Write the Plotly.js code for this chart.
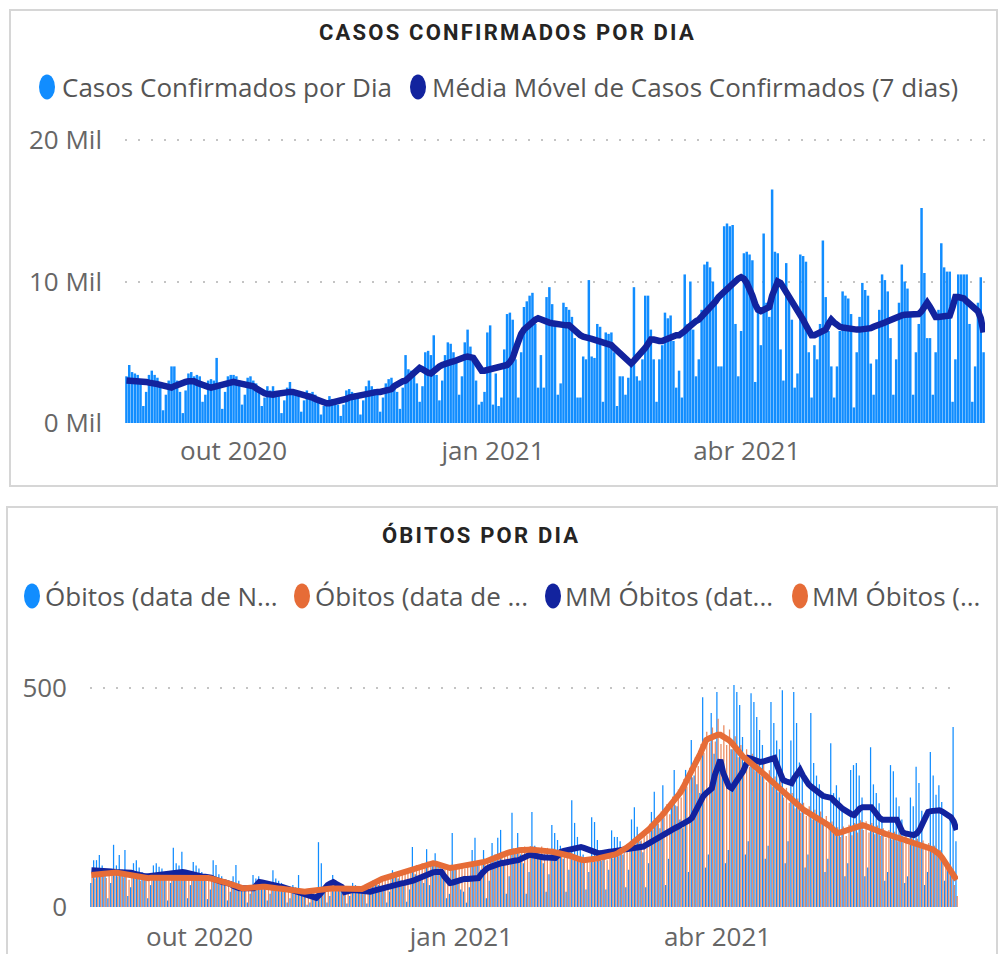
<!DOCTYPE html>
<html><head><meta charset="utf-8">
<script src="https://cdn.plot.ly/plotly-3.0.1.min.js"></script>
<style>html,body{margin:0;padding:0;background:#fff;}#chart{width:998px;height:954px;}</style>
</head><body><div id="chart"></div>
<script>
// ---------- DATA ----------
const START_DATE = '2020-08-24';

// Casos confirmados por dia (Mil)
const casosPorDia = [
3.3,4.1,3.6,3.5,3.4,2.9,1.2,
2.2,3.4,3.7,3.4,3.2,2.8,0.9,
2.0,3.0,4.0,4.0,3.0,2.2,0.7,
2.3,3.5,3.6,3.3,3.4,3.3,1.5,
2.0,3.0,3.1,3.0,4.6,2.6,1.0,
2.2,3.3,3.4,3.4,3.3,3.0,1.3,
2.0,3.2,3.3,3.0,2.8,2.4,1.2,
1.8,2.6,2.3,2.6,2.2,1.9,0.7,
1.6,2.5,2.9,2.4,2.3,2.0,0.8,
1.6,2.3,2.1,2.2,2.0,1.5,0.6,
1.2,1.6,1.9,1.7,1.6,1.3,0.5,
1.3,2.3,2.4,2.2,2.1,1.8,0.6,
1.6,2.6,3.0,2.6,2.4,2.0,0.8,
1.8,2.8,3.1,3.2,2.7,2.2,1.0,
2.5,4.8,3.8,3.7,3.5,2.8,1.5,
2.6,5.0,5.1,4.8,6.2,3.4,1.6,
3.0,4.8,5.7,5.6,5.0,4.3,2.0,
3.3,5.7,6.6,5.4,4.5,3.0,1.3,
1.5,2.2,6.4,6.9,1.3,3.5,1.2,
1.8,5.2,7.7,7.8,7.3,4.5,1.8,
5.0,8.2,8.6,9.0,9.2,7.0,2.5,
4.8,2.5,8.9,9.6,8.4,7.2,2.0,
2.8,8.5,8.2,8.0,7.5,6.0,1.8,
1.8,4.7,4.5,10.1,4.7,4.6,7.0,
6.8,1.5,6.4,6.3,6.4,5.0,1.2,
3.3,3.3,2.0,3.2,4.0,9.6,3.3,
3.0,4.5,9.0,9.0,6.6,4.5,1.5,
4.5,5.5,7.8,7.4,7.6,5.8,2.5,
3.7,1.8,10.5,7.0,10.0,6.6,3.3,
4.5,8.0,11.2,11.4,11.0,10.0,8.9,
4.0,4.0,13.9,14.1,13.9,14.0,7.0,
3.3,6.5,12.0,12.1,11.9,11.5,2.9,
8.0,5.5,13.4,8.5,7.5,16.5,12.1,
12.0,5.2,3.0,11.3,9.0,7.3,2.5,
3.5,11.9,11.8,11.4,5.0,1.8,5.5,
4.5,7.0,12.9,8.9,6.5,4.0,1.8,
4.0,6.5,9.3,9.0,8.8,7.7,1.1,
5.0,7.5,9.9,9.4,9.0,4.2,2.0,
4.5,8.0,10.5,10.1,9.3,6.0,2.0,
4.5,8.5,11.2,10.0,9.5,7.5,2.0,
5.0,7.0,15.2,10.6,6.0,6.0,2.0,
5.0,8.0,12.7,11.0,10.7,10.7,1.5,
4.5,10.5,10.5,10.5,10.5,7.0,1.5,
4.0,8.5,10.3,5.0
];

// Média móvel de casos confirmados (7 dias) (Mil)
const casosMM7 = [
3.0,3.0,3.0,2.95,2.95,3.0,2.95,2.9,2.85,2.85,
2.8,2.75,2.7,2.65,2.6,2.55,2.5,2.6,2.7,2.75,
2.85,2.9,2.95,3.0,2.95,2.85,2.75,2.65,2.6,2.55,
2.5,2.55,2.65,2.75,2.8,2.85,2.85,2.9,2.9,2.85,
2.8,2.75,2.75,2.7,2.7,2.6,2.45,2.3,2.2,2.1,
2.05,2.0,2.0,2.05,2.1,2.15,2.2,2.2,2.2,2.2,
2.15,2.1,2.05,2.0,2.0,1.9,1.8,1.7,1.6,1.5,
1.4,1.4,1.4,1.45,1.45,1.5,1.5,1.6,1.7,1.8,
1.85,1.9,1.95,2.0,2.0,2.05,2.1,2.1,2.15,2.2,
2.2,2.25,2.3,2.3,2.4,2.6,2.75,2.85,2.95,3.0,
3.2,3.4,3.6,3.8,3.9,3.8,3.65,3.55,3.5,3.7,
3.85,4.0,4.1,4.2,4.25,4.3,4.35,4.45,4.55,4.6,
4.65,4.7,4.7,4.6,4.3,4.0,3.7,3.7,3.75,3.8,
3.8,3.85,3.95,4.0,4.05,4.1,4.3,4.6,5.2,5.9,
6.3,6.6,6.8,7.0,7.2,7.3,7.4,7.3,7.2,7.1,
7.1,7.05,7.0,7.0,7.0,6.95,6.9,6.9,6.7,6.5,
6.3,6.2,6.1,6.0,6.0,5.95,5.9,5.8,5.75,5.7,
5.7,5.6,5.5,5.3,5.1,5.0,4.8,4.6,4.4,4.2,
4.4,4.6,4.8,5.0,5.3,5.6,5.9,5.9,5.8,5.8,
5.8,5.9,6.0,6.1,6.1,6.2,6.2,6.3,6.5,6.7,
6.9,7.1,7.2,7.3,7.5,7.7,7.9,8.1,8.4,8.6,
8.9,9.1,9.3,9.5,9.7,9.9,10.1,10.2,10.3,10.2,
9.9,9.5,9.0,8.4,8.0,7.9,8.0,8.1,8.2,9.0,
9.7,10.0,9.9,9.6,9.3,9.0,8.7,8.3,7.9,7.6,
7.3,6.9,6.5,6.2,6.2,6.3,6.3,6.4,6.6,7.0,
7.3,7.1,6.9,6.8,6.75,6.7,6.65,6.6,6.6,6.6,
6.6,6.6,6.65,6.7,6.7,6.8,6.85,6.9,7.0,7.1,
7.2,7.3,7.4,7.5,7.6,7.6,7.65,7.65,7.7,7.7,
7.7,7.7,7.9,8.2,8.5,8.2,7.7,7.5,7.5,7.5,
7.5,7.5,7.6,8.2,8.9,8.9,8.85,8.8,8.6,8.4,
8.2,8.0,7.9,7.4,6.4
];

// Óbitos (data de notificação)
const obitosNotificacao = [
55,107,107,119,95,85,20,
55,142,95,119,85,130,25,
45,100,107,90,80,65,20,
50,95,100,92,88,70,15,
55,135,100,95,126,75,20,
50,103,95,88,80,65,18,
40,107,96,75,70,55,15,
35,70,96,60,50,40,10,
30,73,65,70,60,55,15,
30,84,65,60,55,40,10,
20,50,45,73,35,25,5,
10,25,30,148,100,45,10,
25,73,60,50,45,35,8,
25,55,50,45,40,35,8,
30,60,55,50,45,40,10,
35,84,70,65,60,50,12,
40,137,75,70,65,55,132,
50,100,123,95,90,75,20,
30,169,90,60,40,35,10,
45,130,158,95,85,130,20,
60,146,120,158,176,100,30,
70,215,130,169,120,100,30,
80,217,140,130,120,100,35,
75,187,169,153,140,110,35,
85,244,192,160,140,120,40,
80,205,194,153,130,110,40,
85,175,160,160,150,120,45,
85,200,228,183,150,125,45,
100,217,263,200,180,278,50,
110,240,313,230,200,180,313,
80,381,300,280,260,479,90,
120,443,350,491,320,300,100,
130,360,507,491,461,388,120,
150,488,468,434,404,370,110,
140,468,420,380,360,495,100,
150,380,491,420,330,300,90,
120,443,329,300,280,250,80,
110,374,260,278,250,220,70,
100,313,324,329,300,250,70,
90,365,280,260,237,200,60,
80,324,310,250,230,200,55,
70,250,230,320,283,220,50,
80,354,300,256,278,240,60,
90,200,411,150
];

// Óbitos (data de óbito)
const obitosDataObito = [
78,65,82,70,85,66,80,72,88,70,
80,68,84,62,76,65,72,60,70,63,
71,62,75,64,73,66,76,61,72,65,
70,60,74,62,71,64,70,61,72,63,
70,62,68,58,66,54,60,50,57,48,
52,44,47,40,46,41,48,42,49,43,
50,42,49,41,47,40,45,38,43,36,
40,34,38,33,37,32,39,34,41,36,
43,38,45,40,46,41,44,39,43,38,
42,37,41,36,42,38,48,44,56,52,
64,58,69,61,72,66,77,70,81,74,
86,78,90,84,96,88,100,92,104,95,
106,94,102,90,97,85,94,86,97,88,
98,88,100,91,104,95,107,96,110,100,
115,106,120,110,126,115,130,119,134,122,
137,124,138,125,139,124,137,123,138,122,
135,120,133,118,131,116,128,113,125,108,
119,104,115,101,114,102,116,103,118,105,
120,107,124,111,128,116,134,124,143,133,
154,142,165,152,176,164,190,176,203,190,
218,205,235,212,252,232,268,250,292,275,
318,296,342,322,372,352,400,375,410,378,
430,372,415,370,405,360,390,342,370,330,
360,320,350,310,340,300,330,285,312,275,
298,262,285,250,272,238,260,225,248,215,
238,208,230,200,222,195,218,188,208,178,
195,165,182,160,184,162,188,164,192,170,
198,176,196,170,192,166,186,162,180,158,
176,154,172,150,168,146,165,143,160,140,
156,136,152,130,146,126,140,118,130,108,
105,85,70,50,25
];

// MM Óbitos (data de notificação)
const mmObitosNotificacao = [
84,84,83,83,82,82,81,81,80,80,
79,79,78,78,78,76,74,72,71,70,
70,71,72,73,74,75,76,77,78,79,
80,80,80,79,77,75,73,71,70,69,
69,69,67,64,61,59,57,56,55,52,
48,45,43,43,43,43,43,43,50,57,
56,54,52,50,49,48,47,46,44,41,
38,35,33,32,30,28,25,23,22,21,
27,35,46,50,54,57,53,50,46,34,
36,38,39,38,37,36,35,34,35,37,
39,41,43,45,46,48,50,52,53,54,
55,56,57,60,63,66,70,73,76,78,
79,80,80,80,70,60,55,56,58,62,
63,64,64,65,65,66,66,75,84,88,
91,94,97,100,100,101,103,104,105,106,
107,110,113,116,119,118,116,115,114,113,
113,112,112,112,118,126,128,130,132,134,
135,136,137,135,132,129,126,124,123,123,
123,124,126,127,128,129,130,131,132,133,
134,134,135,135,138,142,146,150,155,160,
164,167,171,174,177,180,183,186,190,194,
198,203,215,230,244,253,260,266,271,300,
320,336,306,285,275,271,280,290,297,310,
325,340,338,335,333,331,332,334,336,338,
340,322,305,290,287,285,283,295,305,313,
300,288,280,274,268,262,256,254,252,250,
249,242,235,228,224,220,215,212,210,218,
225,228,228,228,228,220,210,203,199,199,
199,199,199,199,185,171,168,166,165,164,
168,176,190,205,217,219,220,221,221,218,
214,210,205,195,176
];

// MM Óbitos (data de óbito)
const mmObitosDataObito = [
73,74,75,76,77,77,78,78,78,78,
77,76,75,73,71,70,68,67,66,66,
66,67,67,68,68,69,69,69,68,68,
67,67,66,66,66,66,66,66,66,66,
66,66,65,64,62,60,58,56,55,53,
50,48,45,43,43,44,44,45,45,46,
46,46,46,45,44,43,42,41,40,39,
38,37,36,36,35,35,36,37,38,39,
40,41,42,43,43,43,42,42,41,41,
40,40,39,39,39,41,44,48,52,56,
60,62,64,66,68,70,72,74,76,78,
80,82,85,88,90,92,94,96,98,99,
100,99,97,94,91,89,89,90,91,92,
92,93,94,96,98,99,100,101,103,105,
108,111,114,116,119,121,123,125,127,128,
129,130,130,131,131,131,130,130,130,129,
128,127,126,125,124,123,121,119,117,115,
112,110,108,107,107,108,109,110,111,112,
113,114,116,118,120,123,126,130,135,140,
145,150,155,160,166,172,178,185,191,198,
205,213,221,229,237,244,251,262,274,286,
298,309,320,336,351,366,381,385,389,391,
393,393,390,386,381,375,366,357,347,343,
338,333,328,323,318,313,307,300,293,287,
280,274,267,261,255,249,243,237,232,226,
223,219,215,211,208,205,203,198,193,187,
181,175,169,170,172,174,175,176,179,182,
185,187,185,182,179,176,174,171,169,167,
165,163,162,160,158,156,154,152,150,148,
146,144,142,139,136,133,130,126,120,112,
102,92,84,73,62
];

const xTickDates = ['2020-10-01','2021-01-01','2021-04-01'];
const xTickLabels = ['out 2020','jan 2021','abr 2021'];
const casosTickVals = [0,10,20];
const casosTickLabels = ['0 Mil','10 Mil','20 Mil'];
const obitosTickVals = [0,500];
const obitosTickLabels = ['0','500'];

const casosTitle = 'CASOS CONFIRMADOS POR DIA';
const obitosTitle = 'ÓBITOS POR DIA';
const casosLegend = ['Casos Confirmados por Dia','Média Móvel de Casos Confirmados (7 dias)'];
const obitosLegend = ['Óbitos (data de N...','Óbitos (data de ...','MM Óbitos (dat...','MM Óbitos (...'];

// ---------- STYLE ----------
const BLUE = '#118DFF', DARK = '#12239E', ORANGE = '#E66C37';
const W = 998, H = 954;
const px = x => x / W, py = y => 1 - y / H;
const TXT = "'Open Sans', 'Segoe UI', sans-serif";
const TITLEF = "Roboto, 'DejaVu Sans', sans-serif";

function buildDates(start, n){
  const out = []; const d0 = new Date(start + 'T00:00:00Z');
  for (let i = 0; i < n; i++){ const d = new Date(d0.getTime() + i*86400000); out.push(d.toISOString().slice(0,10)); }
  return out;
}
const dates = buildDates(START_DATE, casosPorDia.length);
const xRange = ['2020-08-23 12:00', '2021-06-24 12:00'];

const traces = [
  {type:'bar', x:dates, y:casosPorDia, xaxis:'x', yaxis:'y', marker:{color:BLUE}, name:casosLegend[0]},
  {type:'scatter', mode:'lines', x:dates, y:casosMM7, xaxis:'x', yaxis:'y', line:{color:DARK, width:6.5}, name:casosLegend[1]},
  {type:'bar', x:dates, y:obitosNotificacao, xaxis:'x2', yaxis:'y2', marker:{color:BLUE}, name:obitosLegend[0]},
  {type:'bar', x:dates, y:obitosDataObito, xaxis:'x2', yaxis:'y2', marker:{color:ORANGE, opacity:0.8}, name:obitosLegend[1]},
  {type:'scatter', mode:'lines', x:dates, y:mmObitosNotificacao, xaxis:'x2', yaxis:'y2', line:{color:DARK, width:6}, name:obitosLegend[2]},
  {type:'scatter', mode:'lines', x:dates, y:mmObitosDataObito, xaxis:'x2', yaxis:'y2', line:{color:ORANGE, width:6}, name:obitosLegend[3]}
];

const tickFont = {family:TXT, size:26, color:'#666666'};
const gridStyle = {showgrid:true, gridcolor:'#c4c4c4', gridwidth:2, griddash:'2px,11px', zeroline:false, showline:false, ticks:''};

const xBase = {type:'date', range:xRange, tickvals:xTickDates, ticktext:xTickLabels, showgrid:false, zeroline:false, showline:false, ticks:'', tickfont:tickFont, tickangle:0};

const spaced = t => '<span style="letter-spacing:2.2px">' + t + '</span>';
const annotations = [
  {text:spaced(casosTitle), x:px(507), y:py(33), xref:'paper', yref:'paper', showarrow:false, xanchor:'center', yanchor:'middle', font:{family:TITLEF, size:22, color:'#252423', weight:700}},
  {text:spaced(obitosTitle), x:px(481), y:py(535), xref:'paper', yref:'paper', showarrow:false, xanchor:'center', yanchor:'middle', font:{family:TITLEF, size:22, color:'#252423', weight:700}}
];
const legendFont = {family:TXT, size:26, color:'#555555'};
const topLeg = [[47,60],[418,430]];
topLeg.forEach((p,i)=>annotations.push({text:casosLegend[i], x:px(p[1]), y:py(87), xref:'paper', yref:'paper', showarrow:false, xanchor:'left', yanchor:'middle', font:legendFont}));
const botLeg = [[32,43],[302,313],[553,563],[800,810]];
botLeg.forEach((p,i)=>annotations.push({text:obitosLegend[i], x:px(p[1]), y:py(596), xref:'paper', yref:'paper', showarrow:false, xanchor:'left', yanchor:'middle', font:legendFont}));

const shapes = [
  {type:'rect', xref:'paper', yref:'paper', x0:px(10), x1:px(997), y0:py(486), y1:py(10), line:{color:'#d6d6d6', width:2}, fillcolor:'rgba(0,0,0,0)'},
  {type:'rect', xref:'paper', yref:'paper', x0:px(7), x1:px(997), y0:py(962), y1:py(507), line:{color:'#d6d6d6', width:2}, fillcolor:'rgba(0,0,0,0)'}
];
const dotColTop = [BLUE, DARK];
topLeg.forEach((p,i)=>shapes.push({type:'circle', xref:'paper', yref:'paper', x0:px(p[0]-8), x1:px(p[0]+8), y0:py(99.5), y1:py(74.5), fillcolor:dotColTop[i], line:{width:0}}));
const dotColBot = [BLUE, ORANGE, DARK, ORANGE];
botLeg.forEach((p,i)=>shapes.push({type:'circle', xref:'paper', yref:'paper', x0:px(p[0]-8), x1:px(p[0]+8), y0:py(608.5), y1:py(583.5), fillcolor:dotColBot[i], line:{width:0}}));

const yTopMax = 20.3; // a little headroom so the 20 Mil grid line is drawn
const layout = {
  width:W, height:H, margin:{l:0,r:0,t:0,b:0}, paper_bgcolor:'#fff', plot_bgcolor:'#fff',
  showlegend:false, barmode:'group', bargap:0.12, bargroupgap:0, hovermode:false,
  xaxis: Object.assign({}, xBase, {domain:[px(125), px(985)], anchor:'y', ticklabelstandoff:10}),
  yaxis: Object.assign({}, gridStyle, {domain:[py(423), py(423 - yTopMax*14.15)], anchor:'x', range:[0,yTopMax], tickvals:casosTickVals, ticktext:casosTickLabels, tickfont:tickFont, ticklabelstandoff:22}),
  xaxis2: Object.assign({}, xBase, {domain:[px(90), px(958)], anchor:'y2', ticklabelstandoff:12}),
  yaxis2: Object.assign({}, gridStyle, {domain:[py(907), py(907-510*0.438)], anchor:'x2', range:[0,510], tickvals:obitosTickVals, ticktext:obitosTickLabels, tickfont:tickFont, ticklabelstandoff:22}),
  annotations, shapes
};

Plotly.newPlot('chart', traces, layout, {staticPlot:true, displayModeBar:false});
</script></body></html>
